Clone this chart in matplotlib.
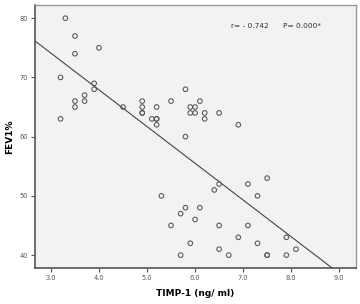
import numpy as np
import matplotlib.pyplot as plt

timp1 = [3.3, 3.5, 3.5, 4.0, 3.2, 3.9, 3.9, 3.7, 3.7, 3.5, 3.5, 3.2, 4.5,
         4.9, 4.9, 4.9, 4.9, 5.2, 5.5, 5.1, 5.2, 5.2, 5.2, 5.8, 5.8, 6.1, 5.9, 6.0, 5.9, 6.0, 6.2, 6.2, 6.5, 6.9,
         5.3, 6.5, 6.4, 5.8, 6.1, 5.7, 6.0, 5.5, 6.5, 6.9, 5.9, 6.5, 6.7, 5.7,
         7.5, 7.1, 7.3, 7.1, 7.3, 7.9, 8.1, 7.5, 7.5, 7.9]
fev1 = [80, 77, 74, 75, 70, 69, 68, 67, 66, 66, 65, 63, 65,
        66, 65, 64, 64, 65, 66, 63, 63, 63, 62, 68, 60, 66, 65, 65, 64, 64, 64, 63, 64, 62,
        50, 52, 51, 48, 48, 47, 46, 45, 45, 43, 42, 41, 40, 40,
        53, 52, 50, 45, 42, 43, 41, 40, 40, 40]

# fit line as drawn in the original (slope, intercept)
fit_slope = -6.2
fit_icpt = 92.7

xticks = [3.0, 4.0, 5.0, 6.0, 7.0, 8.0, 9.0]
yticks = [40, 50, 60, 70, 80]

fig = plt.figure(figsize=(3.6, 3.04), dpi=100)
ax = fig.add_axes([0.097, 0.119, 0.892, 0.865])
ax.set_facecolor('#f2f2f2')

ax.scatter(timp1, fev1, s=11, facecolors='none', edgecolors='#555555', linewidths=0.75, zorder=3)

xl = np.array([2.667, 9.35])
ax.plot(xl, fit_icpt + fit_slope * xl, color='#444444', lw=0.8, zorder=2)

ax.set_xlim(2.667, 9.35)
ax.set_ylim(37.85, 82.25)
ax.set_xticks(xticks)
ax.set_xticklabels(['%.1f' % t for t in xticks])
ax.set_yticks(yticks)
ax.tick_params(labelsize=4.8, colors='#555555', length=3, width=0.8, pad=2)

for s in ['left', 'bottom']:
    ax.spines[s].set_color('#555555')
    ax.spines[s].set_linewidth(1.2)
for s in ['top', 'right']:
    ax.spines[s].set_color('#999999')
    ax.spines[s].set_linewidth(1.0)

ax.set_xlabel('TIMP-1 (ng/ ml)', fontsize=6.5, fontweight='bold', labelpad=6)
ax.set_ylabel('FEV1%', fontsize=6.5, fontweight='bold', labelpad=4)
ax.text(0.61, 0.92, 'r= - 0.742      P= 0.000*', transform=ax.transAxes,
        fontsize=5.3, color='#333333', va='center')

fig.savefig('out.png', dpi=100)
